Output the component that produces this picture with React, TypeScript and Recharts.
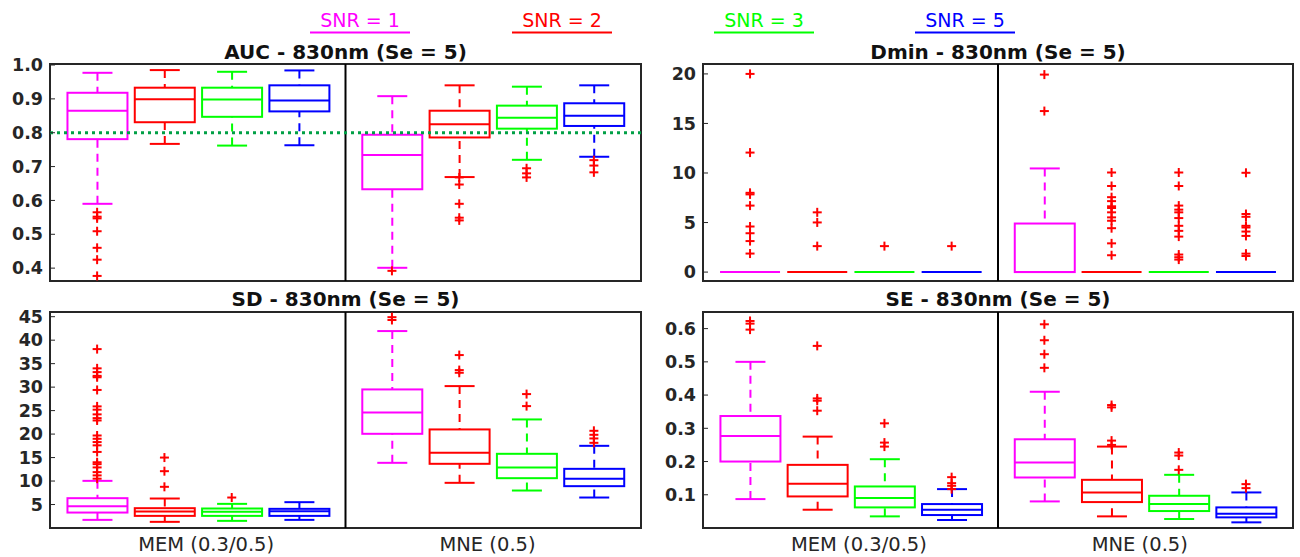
import React from 'react';
import { ComposedChart, Bar, Scatter, XAxis, YAxis, ReferenceArea, ReferenceLine } from 'recharts';

// ---------- shared categories ----------
const groupNames = ['MEM (0.3/0.5)', 'MNE (0.5)'];
const groupLabelPositions = [2.62, 6.8];
const snrLabels = ['SNR = 1', 'SNR = 2', 'SNR = 3', 'SNR = 5'];
const snrColors = ['#ff00ff', '#ff0000', '#00ff00', '#0000ff'];
const boxPositions = [1, 2, 3, 4, 5.38, 6.38, 7.38, 8.38];
const groupDivider = 4.69;
const X_DOMAIN: [number, number] = [0.3, 9.08];

// ---------- AUC ----------
const aucLow = [0.59, 0.767, 0.762, 0.763, 0.401, 0.669, 0.72, 0.729];
const aucQ1 = [0.781, 0.831, 0.847, 0.863, 0.633, 0.786, 0.812, 0.82];
const aucMed = [0.865, 0.899, 0.898, 0.895, 0.734, 0.825, 0.844, 0.85];
const aucQ3 = [0.918, 0.933, 0.933, 0.94, 0.794, 0.865, 0.88, 0.887];
const aucHigh = [0.977, 0.985, 0.98, 0.984, 0.908, 0.94, 0.936, 0.94];
const aucOut = [
  [0.565, 0.552, 0.547, 0.509, 0.46, 0.425, 0.377],
  [], [], [],
  [0.392],
  [0.668, 0.647, 0.59, 0.549, 0.541],
  [0.695, 0.68, 0.668],
  [0.719, 0.703, 0.683],
];
const aucTicks = [0.4, 0.5, 0.6, 0.7, 0.8, 0.9, 1.0];
const aucRef = 0.8;

// ---------- Dmin ----------
const dminLow = [0, 0, 0, 0, 0, 0, 0, 0];
const dminQ1 = [0, 0, 0, 0, 0, 0, 0, 0];
const dminMed = [0, 0, 0, 0, 0, 0, 0, 0];
const dminQ3 = [0, 0, 0, 0, 4.9, 0, 0, 0];
const dminHigh = [0, 0, 0, 0, 10.46, 0, 0, 0];
const dminOut = [
  [20.0, 12.06, 8.0, 7.84, 6.71, 4.6, 3.92, 3.13, 1.87],
  [6.03, 5.01, 2.62],
  [2.62],
  [2.62],
  [19.93, 16.25],
  [10.05, 8.69, 7.56, 7.16, 6.64, 6.47, 6.03, 5.52, 5.18, 4.43, 2.9, 1.7],
  [10.05, 8.69, 6.71, 6.3, 6.03, 5.45, 4.67, 4.16, 3.58, 1.77, 1.5, 1.26],
  [10.02, 5.86, 5.58, 4.67, 4.5, 4.09, 3.65, 1.86, 1.62],
];
const dminTicks = [0, 5, 10, 15, 20];

// ---------- SD ----------
const sdLow = [1.73, 1.31, 1.52, 1.73, 13.88, 9.62, 7.98, 6.49];
const sdQ1 = [3.29, 2.58, 2.58, 2.58, 20.06, 13.67, 10.61, 8.91];
const sdMed = [4.64, 3.51, 3.44, 3.58, 24.6, 16.01, 12.89, 10.47];
const sdQ3 = [6.35, 4.22, 4.15, 4.08, 29.51, 20.99, 15.8, 12.6];
const sdHigh = [10.04, 6.28, 5.14, 5.5, 41.94, 30.22, 23.12, 17.5];
const sdOut = [
  [38.1, 34.0, 33.2, 32.4, 32.1, 29.4, 25.9, 25.2, 24.2, 23.4, 22.9, 19.7, 19.0, 18.3, 17.6, 16.2, 14.0, 13.6, 12.9, 11.9, 11.2, 10.5],
  [15.0, 12.1, 8.77],
  [6.49],
  [],
  [44.9, 44.3],
  [36.83, 33.63, 33.06],
  [28.52, 25.96],
  [20.7, 19.85, 19.07, 18.14],
];
const sdTicks = [5, 10, 15, 20, 25, 30, 35, 40, 45];

// ---------- SE ----------
const seLow = [0.087, 0.055, 0.035, 0.024, 0.08, 0.035, 0.027, 0.017];
const seQ1 = [0.2, 0.095, 0.062, 0.039, 0.152, 0.078, 0.051, 0.032];
const seMed = [0.277, 0.133, 0.09, 0.055, 0.197, 0.107, 0.072, 0.043];
const seQ3 = [0.337, 0.19, 0.125, 0.072, 0.267, 0.145, 0.097, 0.062];
const seHigh = [0.5, 0.275, 0.207, 0.117, 0.41, 0.245, 0.16, 0.107];
const seOut = [
  [0.623, 0.615, 0.597],
  [0.548, 0.39, 0.383, 0.353],
  [0.315, 0.257, 0.245],
  [0.153, 0.135, 0.127, 0.117],
  [0.613, 0.565, 0.523, 0.482],
  [0.37, 0.363, 0.263, 0.25],
  [0.227, 0.218, 0.175],
  [0.132, 0.12],
];
const seTicks = [0.1, 0.2, 0.3, 0.4, 0.5, 0.6];

// ---------- styling ----------
const FONT = '"DejaVu Sans", sans-serif';
const TEXT = '#262626';
const BOX_W = 60;
const CAP_HALF = 15;
const OUTLIER_COLOR = '#ff0000';

const BoxShape = (p: any) => {
  const h = Math.abs(p.height || 0);
  const y = Math.min(p.y, p.y + (p.height || 0));
  if (!isFinite(p.x) || !isFinite(y)) return <g />;
  return <rect x={p.x} y={y} width={p.width} height={h} fill="none" stroke={p.payload.color} strokeWidth={2} />;
};

const WhiskerHiShape = (p: any) => {
  const h = Math.abs(p.height || 0);
  const y = Math.min(p.y, p.y + (p.height || 0));
  if (!(h > 0.5)) return <g />;
  const cx = p.x + p.width / 2;
  return (
    <g>
      <line x1={cx} x2={cx} y1={y} y2={y + h} stroke={p.payload.color} strokeWidth={2} strokeDasharray="8 6" />
      <line x1={cx - CAP_HALF} x2={cx + CAP_HALF} y1={y} y2={y} stroke={p.payload.color} strokeWidth={2} />
    </g>
  );
};

const WhiskerLoShape = (p: any) => {
  const h = Math.abs(p.height || 0);
  const y = Math.min(p.y, p.y + (p.height || 0));
  if (!(h > 0.5)) return <g />;
  const cx = p.x + p.width / 2;
  return (
    <g>
      <line x1={cx} x2={cx} y1={y + h} y2={y} stroke={p.payload.color} strokeWidth={2} strokeDasharray="8 6" />
      <line x1={cx - CAP_HALF} x2={cx + CAP_HALF} y1={y + h} y2={y + h} stroke={p.payload.color} strokeWidth={2} />
    </g>
  );
};

const MedianShape = (p: any) => (
  <line x1={p.cx - BOX_W / 2} x2={p.cx + BOX_W / 2} y1={p.cy} y2={p.cy} stroke={p.payload.color} strokeWidth={2} />
);

const PlusShape = (p: any) => (
  <g stroke={OUTLIER_COLOR} strokeWidth={2}>
    <line x1={p.cx - 4.5} x2={p.cx + 4.5} y1={p.cy} y2={p.cy} />
    <line x1={p.cx} x2={p.cx} y1={p.cy - 4.5} y2={p.cy + 4.5} />
  </g>
);

const groupFormatter = (v: number) => groupNames[groupLabelPositions.indexOf(v)] ?? '';

type PanelProps = {
  left: number; top: number; width: number; height: number;
  margin: { top: number; right: number; bottom: number; left: number };
  low: number[]; q1: number[]; med: number[]; q3: number[]; high: number[]; out: number[][];
  yDomain: [number, number]; yTicks: number[]; fmt: (v: number) => string;
  showX: boolean; refY?: number;
};

function BoxPanel(props: PanelProps) {
  const { low, q1, med, q3, high, out } = props;
  const rows = boxPositions.map((x, i) => ({
    x,
    box: [q1[i], q3[i]],
    hi: [q3[i], high[i]],
    lo: [low[i], q1[i]],
    color: snrColors[i % 4],
  }));
  const medians = boxPositions.map((x, i) => ({ x, y: med[i], color: snrColors[i % 4] }));
  const outliers: { x: number; y: number }[] = [];
  out.forEach((vals, i) => vals.forEach((v) => outliers.push({ x: boxPositions[i], y: v })));

  const tickStyle = { fill: TEXT, fontSize: 17.5, fontWeight: 'bold' as const, fontFamily: FONT };

  return (
    <div style={{ position: 'absolute', left: props.left, top: props.top }}>
      <ComposedChart width={props.width} height={props.height} data={rows} margin={props.margin}>
        <XAxis
          xAxisId="a" type="number" dataKey="x" domain={X_DOMAIN} allowDataOverflow
          ticks={groupLabelPositions} hide={!props.showX} axisLine={false} tickLine={false}
          tickSize={0} tickMargin={9} height={25} interval={0} tickFormatter={groupFormatter}
          tick={{ fill: TEXT, fontSize: 19.5, fontFamily: FONT }}
        />
        <XAxis xAxisId="b" type="number" dataKey="x" domain={X_DOMAIN} allowDataOverflow hide height={0} ticks={boxPositions} />
        <XAxis xAxisId="h" type="number" dataKey="x" domain={X_DOMAIN} allowDataOverflow hide height={0} ticks={boxPositions} />
        <XAxis xAxisId="l" type="number" dataKey="x" domain={X_DOMAIN} allowDataOverflow hide height={0} ticks={boxPositions} />
        <YAxis
          yAxisId="L" type="number" dataKey="y" domain={props.yDomain} allowDataOverflow ticks={props.yTicks}
          width={45} axisLine={false} tickSize={-5} tickMargin={12} stroke={TEXT} tickFormatter={props.fmt}
          tick={tickStyle} interval={0}
        />
        <YAxis
          yAxisId="R" orientation="right" type="number" domain={props.yDomain} allowDataOverflow ticks={props.yTicks}
          width={1} axisLine={false} tickSize={-5} tick={false} stroke={TEXT} interval={0}
        />
        <ReferenceArea
          xAxisId="a" yAxisId="L" x1={X_DOMAIN[0]} x2={X_DOMAIN[1]} y1={props.yDomain[0]} y2={props.yDomain[1]}
          fill="none" fillOpacity={0} stroke={TEXT} strokeWidth={2} ifOverflow="visible"
        />
        <ReferenceLine xAxisId="a" yAxisId="L" x={groupDivider} stroke="#000" strokeWidth={2} />
        <Bar xAxisId="b" yAxisId="L" dataKey="box" barSize={BOX_W} shape={<BoxShape />} isAnimationActive={false} />
        <Bar xAxisId="h" yAxisId="L" dataKey="hi" barSize={BOX_W} shape={<WhiskerHiShape />} isAnimationActive={false} />
        <Bar xAxisId="l" yAxisId="L" dataKey="lo" barSize={BOX_W} shape={<WhiskerLoShape />} isAnimationActive={false} />
        <Scatter xAxisId="a" yAxisId="L" data={medians} shape={<MedianShape />} isAnimationActive={false} />
        <Scatter xAxisId="a" yAxisId="L" data={outliers} shape={<PlusShape />} isAnimationActive={false} />
        {props.refY !== undefined && (
          <ReferenceLine
            xAxisId="a" yAxisId="L" y={props.refY} stroke="#00a046" strokeWidth={3} strokeDasharray="3 4"
          />
        )}
      </ComposedChart>
    </div>
  );
}

const legendCenters = [360, 562, 764, 965];
const titles = [
  { text: 'AUC - 830nm (Se = 5)', x: 345.5, y: 59 },
  { text: 'Dmin - 830nm (Se = 5)', x: 998, y: 59 },
  { text: 'SD - 830nm (Se = 5)', x: 345.5, y: 306 },
  { text: 'SE - 830nm (Se = 5)', x: 998, y: 306 },
];

export default function App() {
  const f1 = (v: number) => v.toFixed(1);
  const f0 = (v: number) => String(v);
  return (
    <div style={{ position: 'absolute', left: 0, top: 0, width: 1300, height: 557, background: '#fff', overflow: 'hidden' }}>
      <BoxPanel
        left={0} top={30} width={660} height={270} margin={{ top: 34, right: 18, bottom: 19, left: 5 }}
        low={aucLow} q1={aucQ1} med={aucMed} q3={aucQ3} high={aucHigh} out={aucOut}
        yDomain={[0.362, 1.003]} yTicks={aucTicks} fmt={f1} showX={false} refY={aucRef}
      />
      <BoxPanel
        left={650} top={30} width={650} height={270} margin={{ top: 34, right: 6, bottom: 19, left: 8 }}
        low={dminLow} q1={dminQ1} med={dminMed} q3={dminQ3} high={dminHigh} out={dminOut}
        yDomain={[-0.9, 21]} yTicks={dminTicks} fmt={f0} showX={false}
      />
      <BoxPanel
        left={0} top={285} width={660} height={272} margin={{ top: 27, right: 18, bottom: 4, left: 5 }}
        low={sdLow} q1={sdQ1} med={sdMed} q3={sdQ3} high={sdHigh} out={sdOut}
        yDomain={[0, 46]} yTicks={sdTicks} fmt={f0} showX={true}
      />
      <BoxPanel
        left={650} top={285} width={650} height={272} margin={{ top: 27, right: 6, bottom: 4, left: 8 }}
        low={seLow} q1={seQ1} med={seMed} q3={seQ3} high={seHigh} out={seOut}
        yDomain={[0, 0.65]} yTicks={seTicks} fmt={f1} showX={true}
      />
      <svg width={1300} height={557} style={{ position: 'absolute', left: 0, top: 0, pointerEvents: 'none' }}>
        {snrLabels.map((s, i) => (
          <g key={s}>
            <text x={legendCenters[i]} y={27} textAnchor="middle" fontFamily={FONT} fontSize={19} fill={snrColors[i]}>
              {s}
            </text>
            <line x1={legendCenters[i] - 50} x2={legendCenters[i] + 50} y1={32.5} y2={32.5} stroke={snrColors[i]} strokeWidth={2} />
          </g>
        ))}
        {titles.map((t) => (
          <text key={t.text} x={t.x} y={t.y} textAnchor="middle" fontFamily={FONT} fontSize={20} fontWeight="bold" fill="#111">
            {t.text}
          </text>
        ))}
      </svg>
    </div>
  );
}
